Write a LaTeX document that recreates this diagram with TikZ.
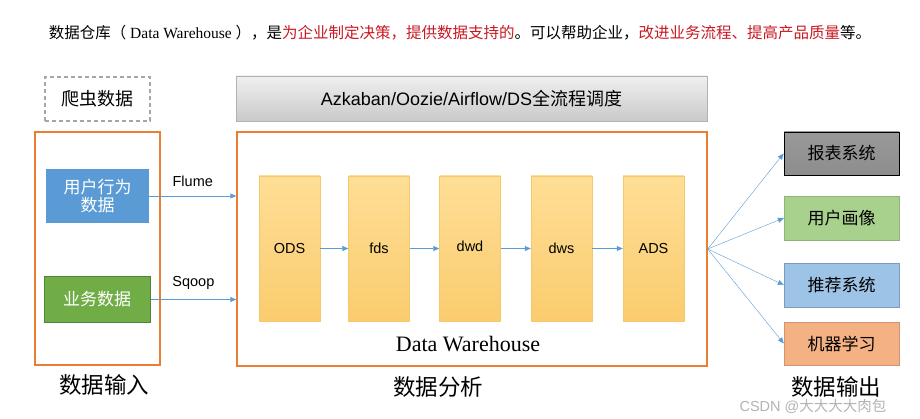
\documentclass[tikz,border=0pt]{standalone}
\usepackage{fontspec}
\setmainfont{Liberation Sans}
\newfontfamily\cjk{Noto Sans CJK SC}
\newfontfamily\tms{Liberation Serif}
\usetikzlibrary{arrows.meta}
\definecolor{frameorange}{RGB}{237,125,49}
\definecolor{titlered}{RGB}{200,25,35}
\definecolor{flowblue}{RGB}{91,155,213}
\definecolor{userblue}{RGB}{91,155,213}
\definecolor{bizgreen}{RGB}{112,173,71}
\definecolor{bizline}{RGB}{84,130,53}
\definecolor{layertop}{RGB}{254,222,150}
\definecolor{layerbot}{RGB}{250,204,110}
\definecolor{layerline}{RGB}{246,200,110}
\definecolor{reportgray}{RGB}{128,128,128}
\definecolor{portraitgreen}{RGB}{169,209,142}
\definecolor{recblue}{RGB}{157,195,230}
\definecolor{mlorange}{RGB}{244,177,131}
\begin{document}
\begin{tikzpicture}[x=1pt,y=-1pt,
    frame/.style={draw=frameorange,line width=1.4pt,inner sep=0pt},
    srcbox/.style={inner sep=0pt,text=white,font=\cjk\fontsize{17}{21}\selectfont,align=center},
    layer/.style={draw=layerline,top color=layertop,bottom color=layerbot,minimum width=61pt,minimum height=145pt,inner sep=0pt,font=\fontsize{14.5}{16}\selectfont},
    outbox/.style={minimum width=115pt,minimum height=44pt,inner sep=0pt,font=\cjk\fontsize{17}{20}\selectfont},
    flow/.style={draw=flowblue,line width=0.6pt,-{Triangle[length=6pt,width=5pt]}},
    part/.style={font=\cjk\fontsize{22.5}{26}\selectfont}]
        \useasboundingbox (0,0) rectangle (920,419);
        \node (title) at (460,33) {\fontsize{15.5}{18}\selectfont{\cjk 数据仓库（}{\tms\ Data Warehouse\ }{\cjk ），是\textcolor{titlered}{为企业制定决策，提供数据支持的}。可以帮助企业，\textcolor{titlered}{改进业务流程、提高产品质量}等。}};
        \node [draw=gray!70,dashed,dash pattern=on 4pt off 3pt,line width=1.2pt,minimum width=105pt,minimum height=44pt,inner sep=0pt,font=\cjk\fontsize{18}{21}\selectfont] (crawl) at (97.5,99) {爬虫数据};
        \node [frame,minimum width=125pt,minimum height=233pt] (input) at (97.5,248.5) {};
        \node [srcbox,fill=userblue,minimum width=103pt,minimum height=54pt] (user) at (97.5,196) {用户行为\\[-3pt]数据};
        \node [srcbox,fill=bizgreen,draw=bizline,line width=1pt,minimum width=106pt,minimum height=45pt] (biz) at (97,299.5) {业务数据};
        \node [part] (inlabel) at (104,385) {数据输入};
        \node [draw=gray!60,top color=gray!12,bottom color=gray!42,minimum width=471pt,minimum height=45pt,inner sep=0pt,font=\fontsize{18}{21}\selectfont] (sched) at (471.5,98.5) {Azkaban/Oozie/Airflow/DS{\cjk 全流程调度}};
        \node [frame,minimum width=470pt,minimum height=234pt] (dw) at (472,249) {};
        \node [layer] (ods) at (289.5,248.5) {ODS};
        \node [layer] (fds) at (379,248.5) {fds};
        \node [layer] (dwd) at (470,248.5) {\raisebox{5pt}{dwd}};
        \node [layer] (dws) at (561.5,248.5) {dws};
        \node [layer] (ads) at (653.5,248.5) {ADS};
        \node [font=\tms\fontsize{22}{26}\selectfont] (dwlabel) at (468,344) {Data Warehouse};
        \node [part] (anlabel) at (438,387) {数据分析};
        \node [outbox,draw=black,line width=0.8pt,top color=reportgray!80,bottom color=reportgray!110!black,minimum height=43pt] (report) at (841.5,153.5) {报表系统};
        \node [outbox,fill=portraitgreen,draw=portraitgreen!85!black] (portrait) at (841.5,218) {用户画像};
        \node [outbox,fill=recblue,draw=recblue!80!black] (recommend) at (841.5,285) {推荐系统};
        \node [outbox,fill=mlorange,draw=mlorange!85!black,minimum height=43pt] (learn) at (841.5,343.5) {机器学习};
        \node [part] (outlabel) at (836,387) {数据输出};
        \draw[flow] (user.east) -- node[above=6pt,font=\fontsize{14.5}{16}\selectfont] {Flume} (user.east -| dw.west);
        \draw[flow] (biz.east) -- node[above=6pt,font=\fontsize{14.5}{16}\selectfont] {Sqoop} (biz.east -| dw.west);
        \draw[flow] (ods) -- (fds);
        \draw[flow] (fds) -- (dwd);
        \draw[flow] (dwd) -- (dws);
        \draw[flow] (dws) -- (ads);
        \draw[flow,line width=0.4pt] (dw.east) -- (report.west);
        \draw[flow,line width=0.4pt] (dw.east) -- (portrait.west);
        \draw[flow,line width=0.4pt] (dw.east) -- (recommend.west);
        \draw[flow,line width=0.4pt] (dw.east) -- (learn.west);
        \node [text=gray!75,opacity=0.8,font=\fontsize{14.5}{17}\selectfont] (mark) at (813,406) {CSDN @{\cjk 大大大大肉包}};
    \end{tikzpicture}
\end{document}
